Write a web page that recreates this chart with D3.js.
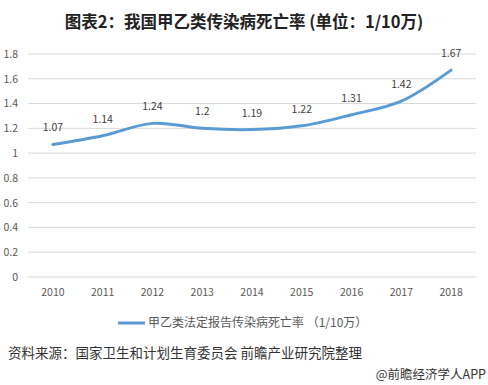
<!DOCTYPE html>
<html>
<head>
<meta charset="utf-8">
<script src="https://cdn.jsdelivr.net/npm/d3@7"></script>
<style>
  body { margin: 0; background: #fff; }
  svg { font-family: "Microsoft YaHei", "Noto Sans CJK SC", sans-serif; }
</style>
</head>
<body>
<svg id="chart" width="488" height="385"></svg>
<script>
// chart data
const years = ["2010", "2011", "2012", "2013", "2014", "2015", "2016", "2017", "2018"];
const rates = [1.07, 1.14, 1.24, 1.2, 1.19, 1.22, 1.31, 1.42, 1.67];
const yTicks = [0, 0.2, 0.4, 0.6, 0.8, 1, 1.2, 1.4, 1.6, 1.8];

const svg = d3.select("#chart");
const margin = {top: 54, left: 28, right: 12, bottom: 108};
const width = 488 - margin.left - margin.right;
const height = 385 - margin.top - margin.bottom;

const g = svg.append("g").attr("transform", `translate(${margin.left},${margin.top})`);

const x = d3.scaleBand().domain(years).range([0, width]);
const y = d3.scaleLinear().domain([0, 1.8]).range([height, 0]);

// title
svg.append("text")
    .attr("x", 244).attr("y", 28)
    .attr("text-anchor", "middle")
    .attr("font-size", "16.5px")
    .attr("font-weight", "bold")
    .attr("fill", "#222")
    .text("图表2：我国甲乙类传染病死亡率 (单位：1/10万)");

// gridlines
g.selectAll("line.grid")
    .data(yTicks)
    .enter().append("line")
    .attr("x1", 0).attr("x2", width)
    .attr("y1", d => y(d)).attr("y2", d => y(d))
    .attr("stroke", "#d9d9d9").attr("stroke-width", 1);

// y axis
const yAxis = g.append("g")
    .call(d3.axisLeft(y).tickValues(yTicks).tickSize(0).tickPadding(10).tickFormat(d3.format("")));
yAxis.select(".domain").remove();
yAxis.selectAll("text").attr("fill", "#595959").attr("font-size", "10.5px")
    .attr("font-family", "Microsoft YaHei, Noto Sans CJK SC, sans-serif");

// x axis
const xAxis = g.append("g")
    .attr("transform", `translate(0,${height})`)
    .call(d3.axisBottom(x).tickSize(0).tickPadding(12));
xAxis.select(".domain").remove();
xAxis.selectAll("text").attr("fill", "#595959").attr("font-size", "10.5px")
    .attr("font-family", "Microsoft YaHei, Noto Sans CJK SC, sans-serif");

// line (smoothed like the original)
const line = d3.line()
    .x((d, i) => x(years[i]) + x.bandwidth() / 2)
    .y(d => y(d))
    .curve(d3.curveCatmullRom.alpha(0.5));

g.append("path")
    .datum(rates)
    .attr("d", line)
    .attr("fill", "none")
    .attr("stroke", "#5b9bd5")
    .attr("stroke-width", 3)
    .attr("stroke-linecap", "round");

// data labels
g.selectAll("text.lbl")
    .data(rates)
    .enter().append("text")
    .attr("x", (d, i) => x(years[i]) + x.bandwidth() / 2)
    .attr("y", d => y(d) - 13)
    .attr("text-anchor", "middle")
    .attr("font-size", "10.5px")
    .attr("fill", "#404040")
    .text(d => d);

// legend
svg.append("line")
    .attr("x1", 118).attr("x2", 145)
    .attr("y1", 323).attr("y2", 323)
    .attr("stroke", "#5b9bd5").attr("stroke-width", 3);
svg.append("text")
    .attr("x", 148).attr("y", 327)
    .attr("font-size", "12px")
    .attr("fill", "#595959")
    .text("甲乙类法定报告传染病死亡率 （1/10万）");

// source
svg.append("text")
    .attr("x", 8).attr("y", 358)
    .attr("font-size", "13.5px")
    .attr("fill", "#333")
    .text("资料来源：国家卫生和计划生育委员会 前瞻产业研究院整理");

svg.append("text")
    .attr("x", 486).attr("y", 379)
    .attr("text-anchor", "end")
    .attr("font-size", "12.5px")
    .attr("fill", "#333")
    .text("@前瞻经济学人APP");
</script>
</body>
</html>
